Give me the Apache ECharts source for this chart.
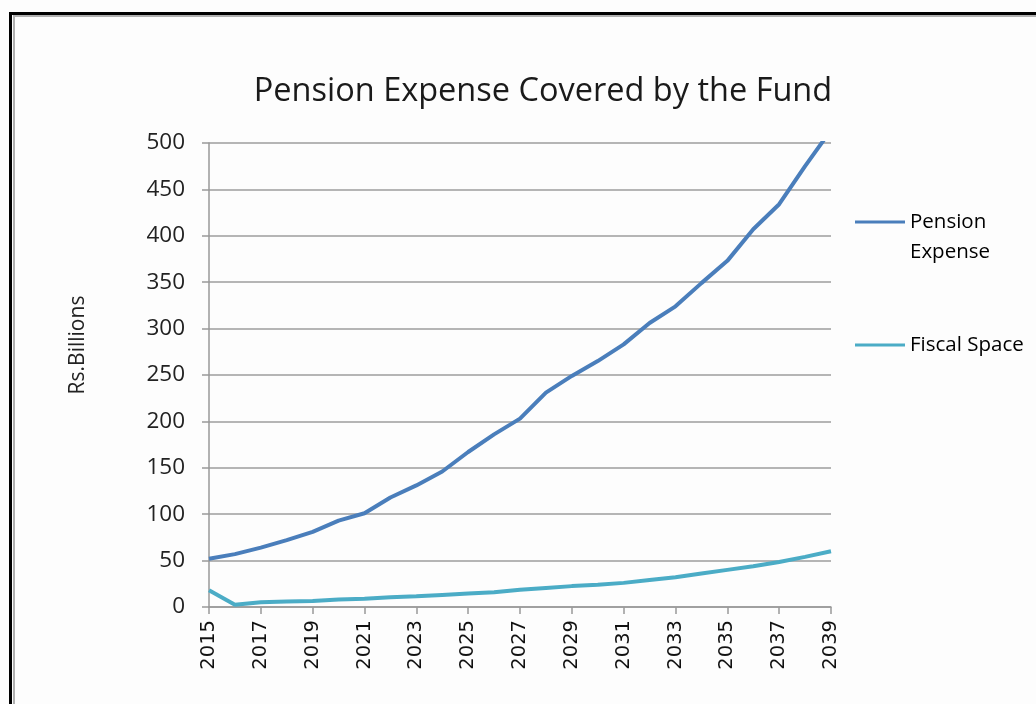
<!DOCTYPE html>
<html>
<head>
<meta charset="utf-8">
<title>Pension Expense Covered by the Fund</title>
<script src="https://cdn.jsdelivr.net/npm/echarts@6/dist/echarts.min.js"></script>
<style>
  html, body { margin: 0; padding: 0; background: #ffffff; }
  #chart { width: 1036px; height: 704px; }
</style>
</head>
<body>
<div id="chart"></div>
<script>
// Years on the category axis
const years = [
  '2015','2016','2017','2018','2019','2020','2021','2022','2023','2024','2025','2026','2027',
  '2028','2029','2030','2031','2032','2033','2034','2035','2036','2037','2038','2039'
];

// Rs. billions per year
const pensionExpense = [
  52, 57, 64, 72, 81, 93, 101, 118, 131, 146, 167, 186, 203,
  231, 249, 265, 283, 306, 324, 349, 373, 407, 434, 475, 514
];
const fiscalSpace = [
  18, 2.5, 5, 6, 6.5, 8, 9, 10.5, 11.5, 13, 14.5, 16, 18.5,
  20.5, 22.5, 24, 26, 29, 32, 36, 40, 44, 48.5, 54, 60
];

const seriesNames = ['Pension Expense', 'Fiscal Space'];
const yTicks = { min: 0, max: 500, interval: 50 };

const font = '"Open Sans", "Noto Sans", sans-serif';
const pensionColor = '#4a7ebb';
const fiscalColor = '#4bacc6';

const chart = echarts.init(document.getElementById('chart'), null, { renderer: 'canvas' });

chart.setOption({
  backgroundColor: '#fdfdfd',
  animation: false,
  title: {
    text: 'Pension Expense Covered by the Fund',
    left: 538,
    top: 70,
    textAlign: 'center',
    textStyle: { fontFamily: font, fontSize: 32.5, fontWeight: 'normal', color: '#1a1a1a' }
  },
  legend: [
    {
      // blank first line keeps "Pension" level with the line sample
      data: [seriesNames[0]],
      left: 855,
      top: 177,
      padding: 0,
      icon: 'rect',
      itemWidth: 50,
      itemHeight: 3,
      formatter: () => '\u00a0\nPension\nExpense',
      textStyle: { fontFamily: font, fontSize: 20.5, color: '#000', lineHeight: 30 }
    },
    {
      data: [seriesNames[1]],
      left: 855,
      top: 330,
      padding: 0,
      icon: 'rect',
      itemWidth: 50,
      itemHeight: 3,
      textStyle: { fontFamily: font, fontSize: 20.5, color: '#000', lineHeight: 30 }
    }
  ],
  grid: { left: 209, right: 205, top: 143, bottom: 97, containLabel: false },
  xAxis: {
    type: 'category',
    data: years,
    boundaryGap: false,
    axisLine: { lineStyle: { color: '#999999', width: 1.5 } },
    axisTick: { show: true, interval: 1, length: 7, lineStyle: { color: '#999999', width: 1.5 } },
    axisLabel: {
      interval: 1,
      rotate: 90,
      margin: 13,
      fontFamily: '"DejaVu Sans", sans-serif',
      fontSize: 19.5,
      color: '#111'
    },
    splitLine: { show: false }
  },
  yAxis: {
    type: 'value',
    min: yTicks.min,
    max: yTicks.max,
    interval: yTicks.interval,
    name: 'Rs.Billions',
    nameLocation: 'middle',
    nameGap: 120,
    nameRotate: 90,
    nameTextStyle: { fontFamily: font, fontSize: 21, color: '#222', padding: [0, 0, 0, 60] },
    axisLine: { show: true, lineStyle: { color: '#999999', width: 1.5 } },
    axisTick: { show: true, length: 7, lineStyle: { color: '#999999', width: 1.5 } },
    axisLabel: { margin: 24, fontFamily: font, fontSize: 22.5, color: '#222' },
    splitLine: { show: true, lineStyle: { color: '#9c9c9c', width: 1.5 } }
  },
  series: [
    {
      name: seriesNames[0],
      type: 'line',
      data: pensionExpense,
      showSymbol: false,
      clip: true,
      color: pensionColor,
      lineStyle: { color: pensionColor, width: 4 }
    },
    {
      name: seriesNames[1],
      type: 'line',
      data: fiscalSpace,
      showSymbol: false,
      clip: true,
      color: fiscalColor,
      lineStyle: { color: fiscalColor, width: 4 }
    }
  ],
  graphic: [
    // Outer chart frame: black edge with a grey inner line
    {
      type: 'rect',
      shape: { x: 10.5, y: 13.5, width: 1100, height: 800 },
      style: { fill: 'none', stroke: '#000000', lineWidth: 3 },
      silent: true
    },
    {
      type: 'rect',
      shape: { x: 14, y: 16, width: 1100, height: 800 },
      style: { fill: 'none', stroke: '#b0b0b0', lineWidth: 2 },
      silent: true
    }
  ]
});
</script>
</body>
</html>
